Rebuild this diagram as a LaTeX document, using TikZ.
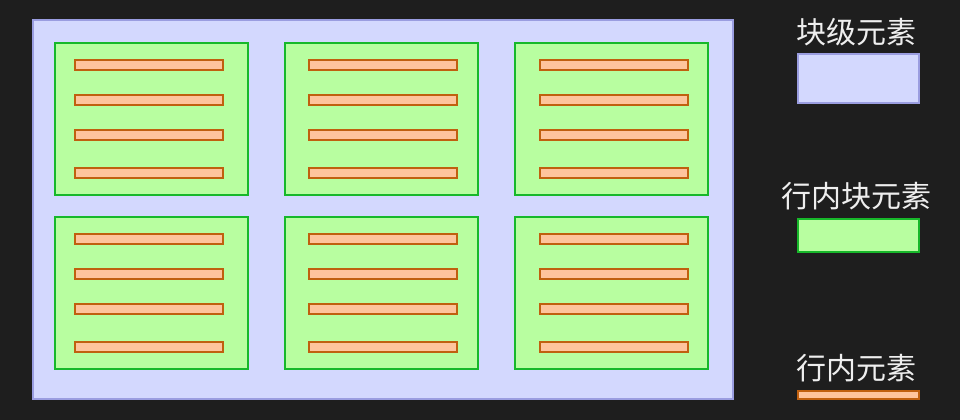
\documentclass[tikz,border=0pt]{standalone}
\usepackage{fontspec}
\newfontfamily\cjk{Noto Sans CJK SC}
\definecolor{bg}{HTML}{1E1E1E}
\definecolor{blkfill}{HTML}{D3D8FE}
\definecolor{blkdraw}{HTML}{9A9DE0}
\definecolor{ibfill}{HTML}{B8FEA0}
\definecolor{ibdraw}{HTML}{17B82A}
\definecolor{infill}{HTML}{FEC49C}
\definecolor{indraw}{HTML}{C0600F}
\definecolor{txt}{HTML}{EEEEEE}
\tikzset{
  blockbox/.style={fill=blkfill,draw=blkdraw,line width=1.5pt},
  ibbox/.style={fill=ibfill,draw=ibdraw,line width=1.5pt},
  inbar/.style={fill=infill,draw=indraw,line width=1.5pt},
  legend/.style={text=txt,font=\cjk\fontsize{22.5pt}{26pt}\selectfont,inner sep=0pt,anchor=center}
}
\begin{document}
\begin{tikzpicture}[x=0.75pt,y=-0.75pt]
\fill[bg] (0,0) rectangle (960,420);
\useasboundingbox (0,0) rectangle (960,420);
\draw[blockbox] (32.5,20.5) rectangle (732.5,399);
\foreach \cx/\bx in {55.3/75, 285.3/309, 515.3/540}{
  \foreach \dy in {0,174}{
    \draw[ibbox] (\cx,43.5+\dy) rectangle (\cx+192.4,195+\dy);
    \foreach \by in {65.3,100.3,135.3,173.3}{
      \draw[inbar] (\bx,\by-5+\dy) rectangle (\bx+148,\by+5+\dy);
    }
  }
}
\node[legend] (l1) at (856,32) {块级元素};
\draw[blockbox] (798,54) rectangle (919,103.5);
\node[legend] (l2) at (856,196) {行内块元素};
\draw[ibbox] (798,219.3) rectangle (919,252.5);
\node[legend] (l3) at (856,368) {行内元素};
\draw[inbar] (798,391) rectangle (919,398.7);
\end{tikzpicture}
\end{document}
